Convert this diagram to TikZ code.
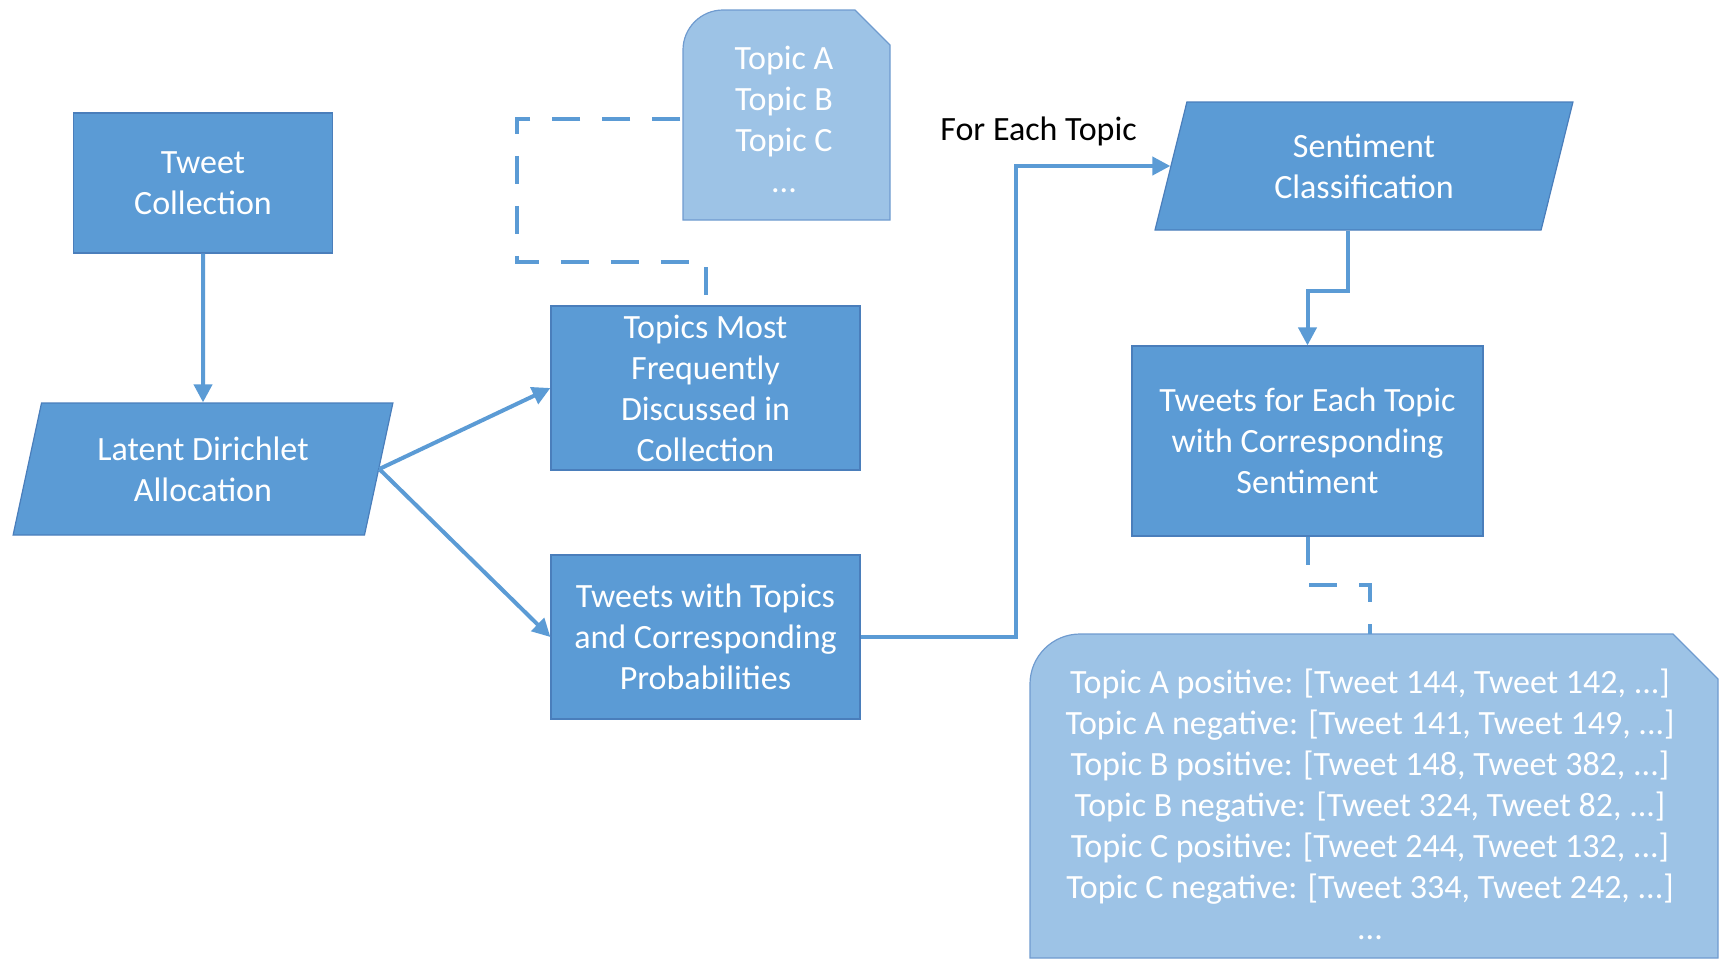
\documentclass[tikz,border=0pt]{standalone}
\usepackage{fontspec}
\setmainfont{Carlito}
\usetikzlibrary{shapes.geometric,arrows.meta}
\definecolor{boxblue}{HTML}{5B9BD5}
\definecolor{edgeblue}{HTML}{4A7EBB}
\definecolor{paleblue}{HTML}{9DC3E6}
\definecolor{paleedge}{HTML}{6F9BCF}

\begin{document}
\begin{tikzpicture}[x=0.5pt,y=-0.5pt,
	every node/.style={font=\fontsize{17}{20.5}\selectfont, align=center, inner sep=0pt},
	process/.style={rectangle, fill=boxblue, draw=edgeblue, line width=0.6pt, text=white},
	slanted/.style={trapezium, trapezium stretches=true, fill=boxblue, draw=edgeblue, line width=0.6pt, text=white},
	flow/.style={draw=boxblue, line width=2pt, -{Triangle[length=9pt,width=9pt]}},
	link/.style={draw=boxblue, line width=2pt, dash pattern=on 14pt off 11pt},
	listbox/.style={fill=paleblue, draw=paleedge, line width=0.6pt}]
	\useasboundingbox (0,0) rectangle (1721,960);
	% list shapes
	\draw[listbox] (683,220) [rounded corners=20pt] -- (683,10) [sharp corners] -- (855,10) -- (890,45) -- (890,220) -- cycle;
	\draw[listbox] (1030,958) [rounded corners=25pt] -- (1030,634) [sharp corners] -- (1673,634) -- (1718,679) -- (1718,958) -- cycle;
	% main steps
	\node[process, minimum width=129.5pt, minimum height=70pt] (tweetcol) at (203,183) {Tweet\\Collection};
	\node[slanted, trapezium left angle=74, trapezium right angle=106, minimum width=190pt, minimum height=66pt] (lda) at (203,469) {Latent Dirichlet\\Allocation};
	\node[process, minimum width=154.5pt, minimum height=82pt] (topmost) at (705.5,388) {Topics Most\\Frequently\\Discussed in\\Collection};
	\node[process, minimum width=154.5pt, minimum height=82pt] (tweettop) at (705.5,637) {Tweets with Topics\\and Corresponding\\Probabilities};
	\node[slanted, trapezium left angle=76, trapezium right angle=104, minimum width=209pt, minimum height=64pt] (sentclass) at (1364,166) {Sentiment\\Classification};
	\node[process, minimum width=175.5pt, minimum height=95pt] (sentmap) at (1307.5,441) {Tweets for Each Topic\\with Corresponding\\Sentiment};
	% list texts
	\node[text=white, minimum width=103.5pt, minimum height=109pt] (topiclist) at (784,119) {Topic A\\Topic B\\Topic C\\...};
	\node[text=white, minimum height=170pt] (sentlist) at (1370,804) {Topic A positive: [Tweet 144, Tweet 142, ...]\\Topic A negative: [Tweet 141, Tweet 149, ...]\\Topic B positive: [Tweet 148, Tweet 382, ...]\\Topic B negative: [Tweet 324, Tweet 82, ...]\\Topic C positive: [Tweet 244, Tweet 132, ...]\\Topic C negative: [Tweet 334, Tweet 242, ...]\\...};
	\node[anchor=west] (eachlabel) at (940,131) {For Each Topic};
	% connectors
	\coordinate (topicbend) at (517,262);
	\coordinate (listbend) at (1340,585);
	\draw[flow] (tweetcol.south) -- (lda.north);
	\draw[flow] (lda.east) -- (topmost.west);
	\draw[flow] (lda.east) -- (tweettop.west);
	\draw[flow] (tweettop.east) -- ++(155,0) |- (sentclass.west);
	\draw[flow] ([xshift=-8pt]sentclass.south) -- ++(0,60) -| (sentmap.north);
	\draw[link] (topiclist.west) -| (topicbend) -| (topmost.north);
	\draw[link] (sentmap.south) |- (listbend) -| (sentlist.north);
\end{tikzpicture}
\end{document}
